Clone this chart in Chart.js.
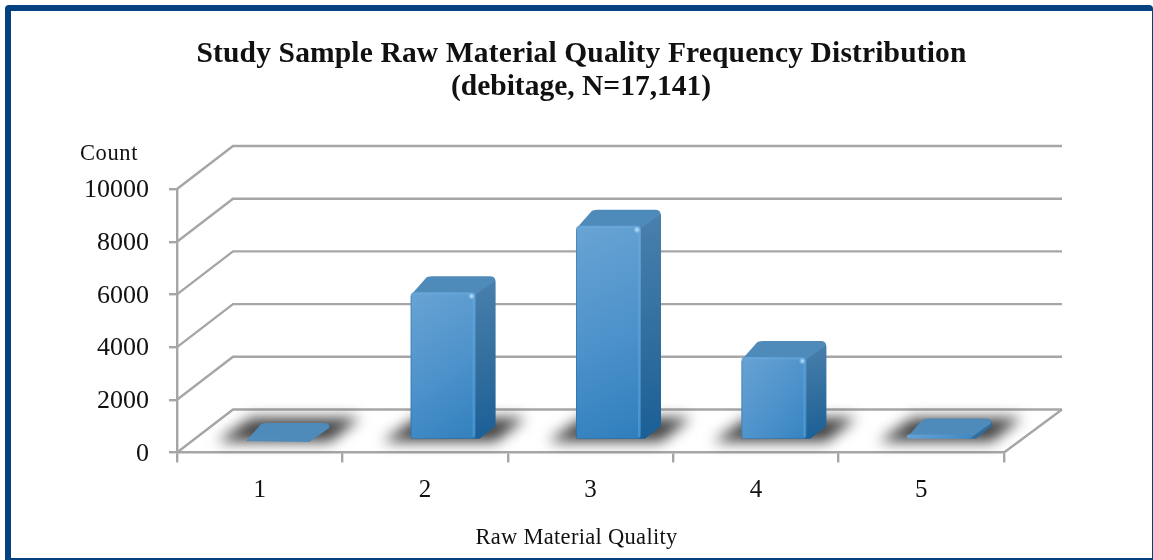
<!DOCTYPE html>
<html>
<head>
<meta charset="utf-8">
<title>Raw Material Quality</title>
<script src="https://cdn.jsdelivr.net/npm/chart.js@4"></script>
<style>
  html, body { margin: 0; padding: 0; background: #fff; overflow: hidden; }
  #marco {
    position: absolute; left: 5px; top: 5px; width: 1148px; height: 555px;
    box-sizing: border-box; border: solid #03417f; border-width: 6px 1.5px 2px 6px;
    border-top-left-radius: 4px; border-top-right-radius: 4px;
  }
  #grafica { position: absolute; left: 0; top: 0; }
</style>
</head>
<body>
<div id="marco"></div>
<canvas id="grafica" width="1153" height="560"></canvas>
<script>
const calidades = ["1", "2", "3", "4", "5"];
const conteos = [40, 5610, 8130, 3150, 211];
const marcasY = [0, 2000, 4000, 6000, 8000, 10000];
const tituloLineas = [
  "Study Sample Raw Material Quality Frequency Distribution",
  "(debitage, N=17,141)",
];
const tituloEjeX = "Raw Material Quality";
const tituloEjeY = "Count";

// profundidad de la caja 3D y de cada barra dentro de ella
const FONDO_X = 56;
const FONDO_Y = 43;
const BARRA_X = 20;
const BARRA_Y = 16;
const DESPLAZA_X = 18;
const DESPLAZA_Y = 12.5;
const GRIS = "#a6a6a6";
const SERIF = '"Liberation Serif", serif';

function rellenoFrente(ctx) {
  const chart = ctx.chart;
  if (!chart.chartArea) return "#4a90c8";
  const xs = chart.scales.x;
  const ys = chart.scales.y;
  const cx = xs.getPixelForValue(ctx.dataIndex);
  const top = ys.getPixelForValue(ctx.parsed.y);
  const g = chart.ctx.createLinearGradient(cx - 40, top, cx + 60, ys.bottom);
  g.addColorStop(0, "#6aa4d4");
  g.addColorStop(0.5, "#4d92cb");
  g.addColorStop(1, "#2b7cba");
  return g;
}

function caja(chart) {
  const { ctx, chartArea, scales } = chart;
  const { left, right, bottom } = chartArea;
  ctx.save();
  ctx.strokeStyle = GRIS;
  ctx.lineWidth = 2.4;
  marcasY.forEach(function (valor) {
    const py = scales.y.getPixelForValue(valor);
    ctx.beginPath();
    ctx.moveTo(left, py);
    ctx.lineTo(left + FONDO_X, py - FONDO_Y);
    ctx.lineTo(right + FONDO_X + 2, py - FONDO_Y);
    ctx.stroke();
  });
  // borde derecho del piso
  ctx.beginPath();
  ctx.moveTo(right + FONDO_X + 2, bottom - FONDO_Y);
  ctx.lineTo(right, bottom);
  ctx.stroke();
  ctx.restore();
}

function sombras(chart, barras) {
  const ctx = chart.ctx;
  ctx.save();
  ctx.filter = "blur(7px)";
  ctx.fillStyle = "#434343";
  barras.forEach(function (b) {
    const x0 = b.x - b.width / 2 + DESPLAZA_X;
    const x1 = b.x + b.width / 2 + DESPLAZA_X;
    const y0 = b.base - DESPLAZA_Y;
    ctx.beginPath();
    ctx.moveTo(x0 - 28, y0 + 3);
    ctx.lineTo(x1 + 20, y0 + 3);
    ctx.lineTo(x1 + BARRA_X + 30, y0 - BARRA_Y - 5);
    ctx.lineTo(x0 + BARRA_X - 14, y0 - BARRA_Y - 5);
    ctx.closePath();
    ctx.fill();
  });
  ctx.restore();
}

function carasBarra(chart, b) {
  const ctx = chart.ctx;
  const x0 = b.x - b.width / 2 + DESPLAZA_X;
  const x1 = b.x + b.width / 2 + DESPLAZA_X;
  const top = b.y - DESPLAZA_Y;
  const base = b.base - DESPLAZA_Y;

  // cara lateral
  const lado = ctx.createLinearGradient(x1, top - BARRA_Y, x1 + BARRA_X, base);
  lado.addColorStop(0, "#4a80ad");
  lado.addColorStop(0.5, "#34709f");
  lado.addColorStop(1, "#1b5f96");
  ctx.fillStyle = lado;
  ctx.beginPath();
  ctx.moveTo(x1 - 3, top + 1);
  ctx.lineTo(x1 + BARRA_X - 6, top - BARRA_Y + 1);
  ctx.quadraticCurveTo(x1 + BARRA_X, top - BARRA_Y, x1 + BARRA_X, top - BARRA_Y + 6);
  ctx.lineTo(x1 + BARRA_X, base - BARRA_Y + 3);
  ctx.quadraticCurveTo(x1 + BARRA_X, base - BARRA_Y + 4, x1 + BARRA_X - 2, base - BARRA_Y + 5);
  ctx.lineTo(x1 + 4, base);
  ctx.lineTo(x1 - 3, base);
  ctx.closePath();
  ctx.fill();

  // cara superior
  ctx.fillStyle = "#4f8bba";
  ctx.beginPath();
  ctx.moveTo(x0 + 1, top + 2);
  ctx.lineTo(x0 + BARRA_X - 4, top - BARRA_Y + 1);
  ctx.quadraticCurveTo(x0 + BARRA_X - 1, top - BARRA_Y, x0 + BARRA_X + 2, top - BARRA_Y);
  ctx.lineTo(x1 + BARRA_X - 6, top - BARRA_Y);
  ctx.quadraticCurveTo(x1 + BARRA_X, top - BARRA_Y, x1 + BARRA_X - 1, top - BARRA_Y + 5);
  ctx.lineTo(x1 - 1, top + 3);
  ctx.closePath();
  ctx.fill();
}

function brillos(chart, b) {
  const ctx = chart.ctx;
  const x0 = b.x - b.width / 2 + DESPLAZA_X;
  const x1 = b.x + b.width / 2 + DESPLAZA_X;
  const top = b.y - DESPLAZA_Y;
  const base = b.base - DESPLAZA_Y;
  if (base - top < 8) return;
  ctx.save();
  ctx.lineWidth = 1;
  ctx.strokeStyle = "rgba(20,80,130,0.3)";
  ctx.beginPath();
  ctx.moveTo(x0 + 0.5, top + 4);
  ctx.lineTo(x0 + 0.5, base);
  ctx.lineTo(x1 - 2, base - 0.5);
  ctx.stroke();
  ctx.lineWidth = 2;
  ctx.strokeStyle = "rgba(110,175,225,0.4)";
  ctx.beginPath();
  ctx.moveTo(x0 + 4, top + 1.5);
  ctx.lineTo(x1 - 4, top + 1.5);
  ctx.moveTo(x1 - 2, top + 5);
  ctx.lineTo(x1 - 2, base - 2);
  ctx.stroke();
  const brillo = ctx.createRadialGradient(x1 - 4, top + 4, 0, x1 - 4, top + 4, 3.5);
  brillo.addColorStop(0, "rgba(190,235,255,0.95)");
  brillo.addColorStop(1, "rgba(190,235,255,0)");
  ctx.fillStyle = brillo;
  ctx.fillRect(x1 - 8, top, 8, 8);
  ctx.restore();
}

const dibujo3d = {
  id: "dibujo3d",
  beforeDatasetsDraw(chart) {
    caja(chart);
  },
  beforeDatasetDraw(chart, args) {
    const barras = chart.getDatasetMeta(args.index).data;
    sombras(chart, barras);
    barras.forEach(function (b) {
      carasBarra(chart, b);
    });
    // el frente de cada barra se apoya a media profundidad del piso
    chart.ctx.save();
    chart.ctx.translate(DESPLAZA_X, -DESPLAZA_Y);
  },
  afterDatasetDraw(chart, args) {
    chart.ctx.restore();
    chart.getDatasetMeta(args.index).data.forEach(function (b) {
      brillos(chart, b);
    });
  },
  afterDraw(chart) {
    const ctx = chart.ctx;
    ctx.save();
    ctx.fillStyle = "#111";
    ctx.textBaseline = "alphabetic";
    ctx.textAlign = "center";
    ctx.font = "bold 29.5px " + SERIF;
    ctx.letterSpacing = "0.15px";
    ctx.fillText(tituloLineas[0], 581.5, 62);
    ctx.letterSpacing = "0px";
    ctx.fillText(tituloLineas[1], 581, 94.5);
    ctx.font = "22.5px " + SERIF;
    ctx.letterSpacing = "0.3px";
    ctx.fillText(tituloEjeX, 576.5, 544);
    ctx.letterSpacing = "0.6px";
    ctx.fillText(tituloEjeY, 109, 160);
    ctx.restore();
  },
};

new Chart(document.getElementById("grafica"), {
  type: "bar",
  data: {
    labels: calidades,
    datasets: [
      {
        data: conteos,
        backgroundColor: rellenoFrente,
        borderWidth: 0,
        borderRadius: 4,
        borderSkipped: false,
        barPercentage: 0.393,
        categoryPercentage: 1,
        clip: false,
      },
    ],
  },
  options: {
    responsive: false,
    animation: false,
    events: [],
    layout: { padding: { top: 189, right: 149, left: 0, bottom: 0 } },
    plugins: { legend: { display: false }, tooltip: { enabled: false } },
    scales: {
      x: {
        afterFit(scale) {
          scale.height = 107.5;
        },
        grid: {
          drawOnChartArea: false,
          color: GRIS,
          lineWidth: 2.4,
          tickLength: 10,
        },
        border: { color: GRIS, width: 2.4 },
        ticks: {
          color: "#111",
          padding: 13,
          maxRotation: 0,
          font: { family: SERIF, size: 25 },
        },
      },
      y: {
        min: 0,
        max: 10000,
        afterFit(scale) {
          scale.width = 177;
        },
        afterBuildTicks(scale) {
          scale.ticks = marcasY.map((value) => ({ value }));
        },
        grid: {
          drawOnChartArea: false,
          color: GRIS,
          lineWidth: 2.4,
          tickLength: 8,
        },
        border: { color: GRIS, width: 2.4 },
        ticks: {
          color: "#111",
          padding: 20,
          labelOffset: 1.5,
          font: { family: SERIF, size: 26 },
          callback: (value) => String(value),
        },
      },
    },
  },
  plugins: [dibujo3d],
});
</script>
</body>
</html>
